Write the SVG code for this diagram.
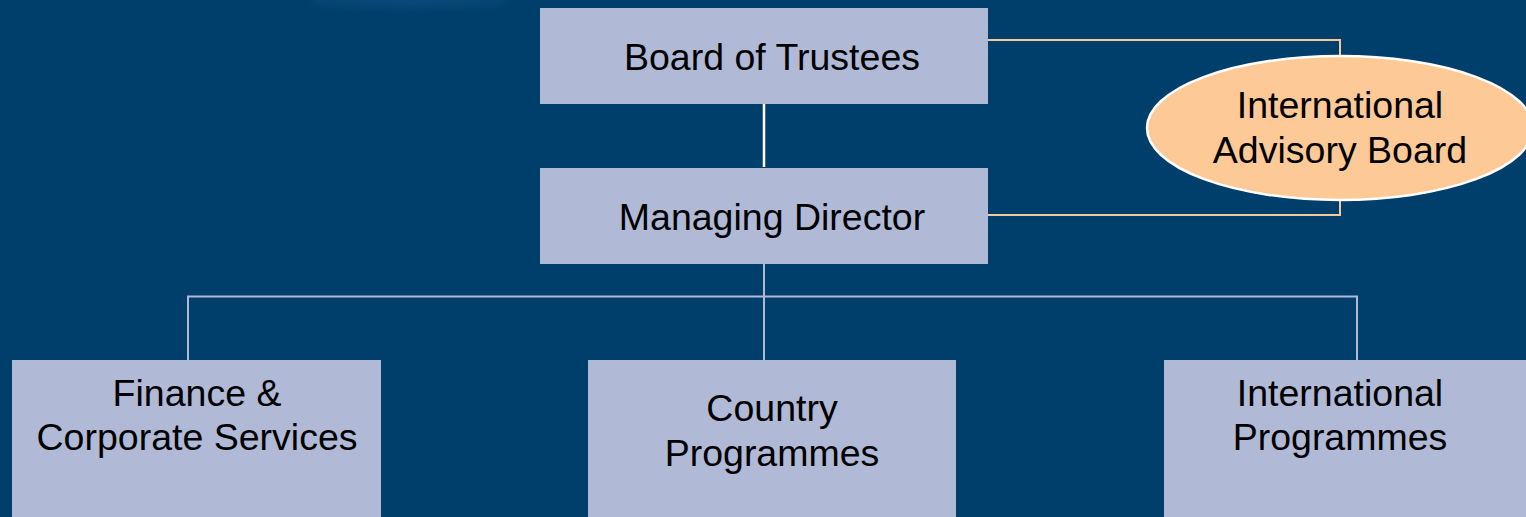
<svg xmlns="http://www.w3.org/2000/svg" width="1526" height="517" viewBox="0 0 1526 517">
  <defs>
    <style>
      .box { fill: #b0bad6; }
      .lbl { font-family: "Liberation Sans", Arial, sans-serif; font-size: 37.5px; fill: #000; text-anchor: middle; }
      .conn { stroke: #b0bad6; stroke-width: 2; fill: none; }
      .orange { stroke: #f8c898; stroke-width: 2; fill: none; }
    </style>
    <filter id="blur" x="-50%" y="-50%" width="200%" height="200%">
      <feGaussianBlur stdDeviation="5"/>
    </filter>
  </defs>
  <rect x="0" y="0" width="1526" height="517" fill="#003f6c"/>
  <ellipse cx="410" cy="0" rx="100" ry="7" fill="#15548a" opacity="0.5" filter="url(#blur)"/>

  <g id="connectors">
    <line x1="764" y1="104" x2="764" y2="167" stroke="#ffffff" stroke-width="2.5"/>
    <line class="conn" x1="764" y1="264" x2="764" y2="360"/>
    <polyline class="conn" points="188,360 188,296.5 1357,296.5 1357,360"/>
    <polyline class="orange" points="988,40 1340,40 1340,57"/>
    <polyline class="orange" points="988,215 1340,215 1340,200"/>
  </g>

  <g id="board">
    <rect class="box" x="540" y="8" width="448" height="96"/>
    <text class="lbl" x="772" y="70">Board of Trustees</text>
  </g>
  <g id="director">
    <rect class="box" x="540" y="168" width="448" height="96"/>
    <text class="lbl" x="772" y="230">Managing Director</text>
  </g>
  <g id="advisory">
    <ellipse cx="1340" cy="128" rx="193" ry="72" fill="#fdc997" stroke="#ffffff" stroke-width="2.5"/>
    <text class="lbl" x="1340" y="118">International</text>
    <text class="lbl" x="1340" y="163">Advisory Board</text>
  </g>
  <g id="finance">
    <rect class="box" x="12" y="360" width="369" height="160"/>
    <text class="lbl" x="197" y="406">Finance &amp;</text>
    <text class="lbl" x="197" y="450">Corporate Services</text>
  </g>
  <g id="country">
    <rect class="box" x="588" y="360" width="368" height="160"/>
    <text class="lbl" x="772" y="421">Country</text>
    <text class="lbl" x="772" y="466">Programmes</text>
  </g>
  <g id="intl">
    <rect class="box" x="1164" y="360" width="370" height="160"/>
    <text class="lbl" x="1340" y="406">International</text>
    <text class="lbl" x="1340" y="450">Programmes</text>
  </g>
</svg>
